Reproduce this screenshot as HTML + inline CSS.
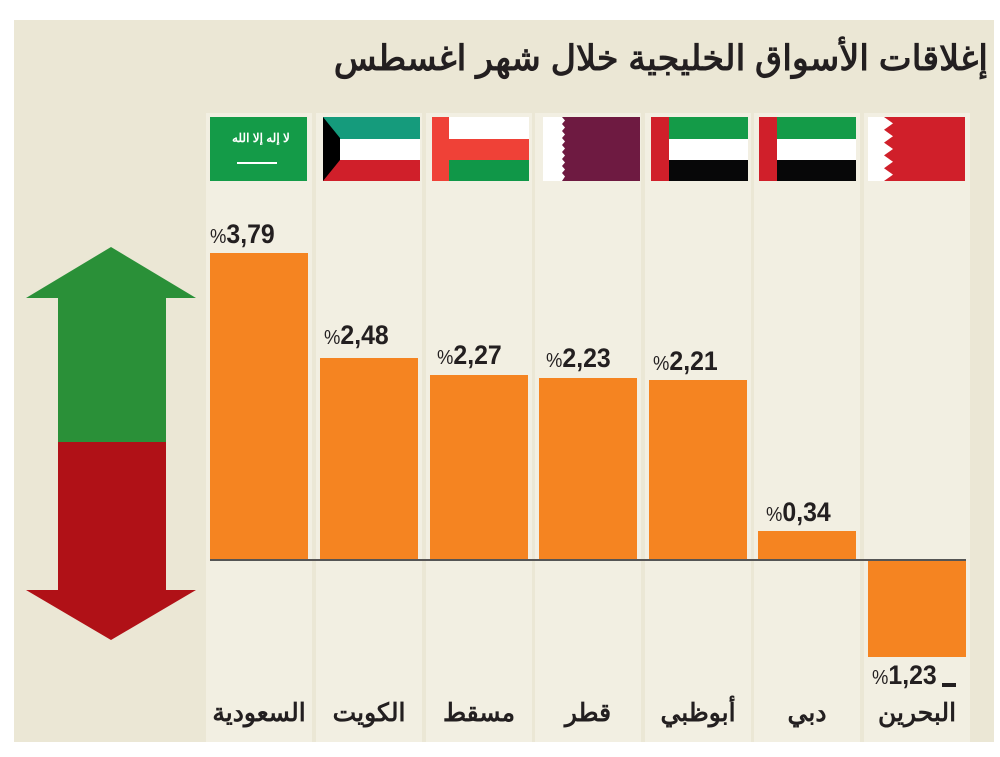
<!DOCTYPE html>
<html><head><meta charset="utf-8"><style>
body{margin:0;width:1000px;height:757px;background:#fff;position:relative;overflow:hidden;font-family:"Liberation Sans","Noto Sans CJK SC",sans-serif}
.panel{position:absolute;left:14px;top:20px;width:980px;height:722px;background:#ebe7d5}
.col{position:absolute;top:113px;height:629px;width:106px;background:#f2efe2}
.bar{position:absolute;background:#f58421}
.val{position:absolute;font-weight:bold;font-size:27px;color:#231f20;direction:ltr;white-space:nowrap;transform:scaleX(0.92);transform-origin:left}
.val small{font-size:20px;font-weight:normal}
.name{position:absolute;top:698px;width:106px;text-align:center;font-weight:bold;font-size:25px;color:#231f20}
.flag{position:absolute;top:117px;width:97px;height:64px;overflow:hidden}
</style></head><body>
<div class="panel"></div>
<div style="position:absolute;right:12px;top:39px;font-size:35px;font-weight:bold;color:#231f20;direction:rtl;white-space:nowrap">إغلاقات الأسواق الخليجية خلال شهر اغسطس</div>

<div class="col" style="left:206px"></div>
<div class="col" style="left:316px"></div>
<div class="col" style="left:426px"></div>
<div class="col" style="left:535px"></div>
<div class="col" style="left:645px"></div>
<div class="col" style="left:754px"></div>
<div class="col" style="left:864px"></div>

<div class="flag" style="left:210px;background:#149b48"><div style="position:absolute;left:22px;top:14px;width:52px;height:16px;color:#fff;font-size:12px;font-weight:bold;text-align:center;white-space:nowrap">لا إله إلا الله</div><div style="position:absolute;left:27px;top:45px;width:40px;height:2px;background:#fff"></div></div>
<div class="flag" style="left:323px"><div style="height:22px;background:#159b7c"></div><div style="height:21px;background:#fff"></div><div style="height:21px;background:#d01f2a"></div><svg style="position:absolute;left:0;top:0" width="97" height="64"><polygon points="0,0 17,21 17,43 0,64" fill="#000"/></svg></div>
<div class="flag" style="left:432px"><div style="position:absolute;left:0;top:0;width:97px;height:22px;background:#fff"></div><div style="position:absolute;left:0;top:22px;width:97px;height:21px;background:#ef4137"></div><div style="position:absolute;left:0;top:43px;width:97px;height:21px;background:#109748"></div><div style="position:absolute;left:0;top:0;width:17px;height:64px;background:#ef4137"></div></div>
<div class="flag" style="left:543px;background:#6e1a41"><svg style="position:absolute;left:0;top:0" width="30" height="64"><polygon points="0,0 19,0 22,3.5 19,7 22,10.5 19,14 22,17.5 19,21 22,24.5 19,28 22,31.5 19,35 22,38.5 19,42 22,45.5 19,49 22,52.5 19,56 22,59.5 19,64 0,64" fill="#fff"/></svg></div>
<div class="flag" style="left:651px"><div style="position:absolute;left:0;top:0;width:97px;height:22px;background:#149b48"></div><div style="position:absolute;left:0;top:22px;width:97px;height:21px;background:#fff"></div><div style="position:absolute;left:0;top:43px;width:97px;height:21px;background:#070708"></div><div style="position:absolute;left:0;top:0;width:18px;height:64px;background:#d01f2a"></div></div>
<div class="flag" style="left:759px"><div style="position:absolute;left:0;top:0;width:97px;height:22px;background:#149b48"></div><div style="position:absolute;left:0;top:22px;width:97px;height:21px;background:#fff"></div><div style="position:absolute;left:0;top:43px;width:97px;height:21px;background:#070708"></div><div style="position:absolute;left:0;top:0;width:18px;height:64px;background:#d01f2a"></div></div>
<div class="flag" style="left:868px;background:#d01f2a"><svg style="position:absolute;left:0;top:0" width="30" height="64"><polygon points="0,0 16,0 25,6.4 16,12.8 25,19.2 16,25.6 25,32 16,38.4 25,44.8 16,51.2 25,57.6 16,64 0,64" fill="#fff"/></svg></div>

<div class="bar" style="left:210px;width:98px;top:253px;height:306px"></div>
<div class="bar" style="left:320px;width:98px;top:358px;height:201px"></div>
<div class="bar" style="left:430px;width:98px;top:375px;height:184px"></div>
<div class="bar" style="left:539px;width:98px;top:378px;height:181px"></div>
<div class="bar" style="left:649px;width:98px;top:380px;height:179px"></div>
<div class="bar" style="left:758px;width:98px;top:531px;height:28px"></div>
<div class="bar" style="left:868px;width:98px;top:560px;height:97px"></div>
<div style="position:absolute;left:210px;top:559px;width:756px;height:2px;background:#555"></div>

<div class="val" style="left:210px;top:219px"><small>%</small>3,79</div>
<div class="val" style="left:324px;top:320px"><small>%</small>2,48</div>
<div class="val" style="left:437px;top:340px"><small>%</small>2,27</div>
<div class="val" style="left:546px;top:343px"><small>%</small>2,23</div>
<div class="val" style="left:653px;top:346px"><small>%</small>2,21</div>
<div class="val" style="left:766px;top:497px"><small>%</small>0,34</div>
<div class="val" style="left:872px;top:660px"><small>%</small>1,23</div>
<div style="position:absolute;left:942px;top:683px;width:14px;height:4px;background:#231f20"></div>

<div class="name" style="left:206px">السعودية</div>
<div class="name" style="left:316px">الكويت</div>
<div class="name" style="left:426px">مسقط</div>
<div class="name" style="left:535px">قطر</div>
<div class="name" style="left:645px">أبوظبي</div>
<div class="name" style="left:754px">دبي</div>
<div class="name" style="left:864px">البحرين</div>

<svg style="position:absolute;left:0;top:0" width="210" height="700">
<polygon points="111,247 196,298 166,298 166,442 58,442 58,298 26,298" fill="#2a9038"/>
<polygon points="58,442 166,442 166,590 196,590 111,640 26,590 58,590" fill="#b01117"/>
</svg>
</body></html>
